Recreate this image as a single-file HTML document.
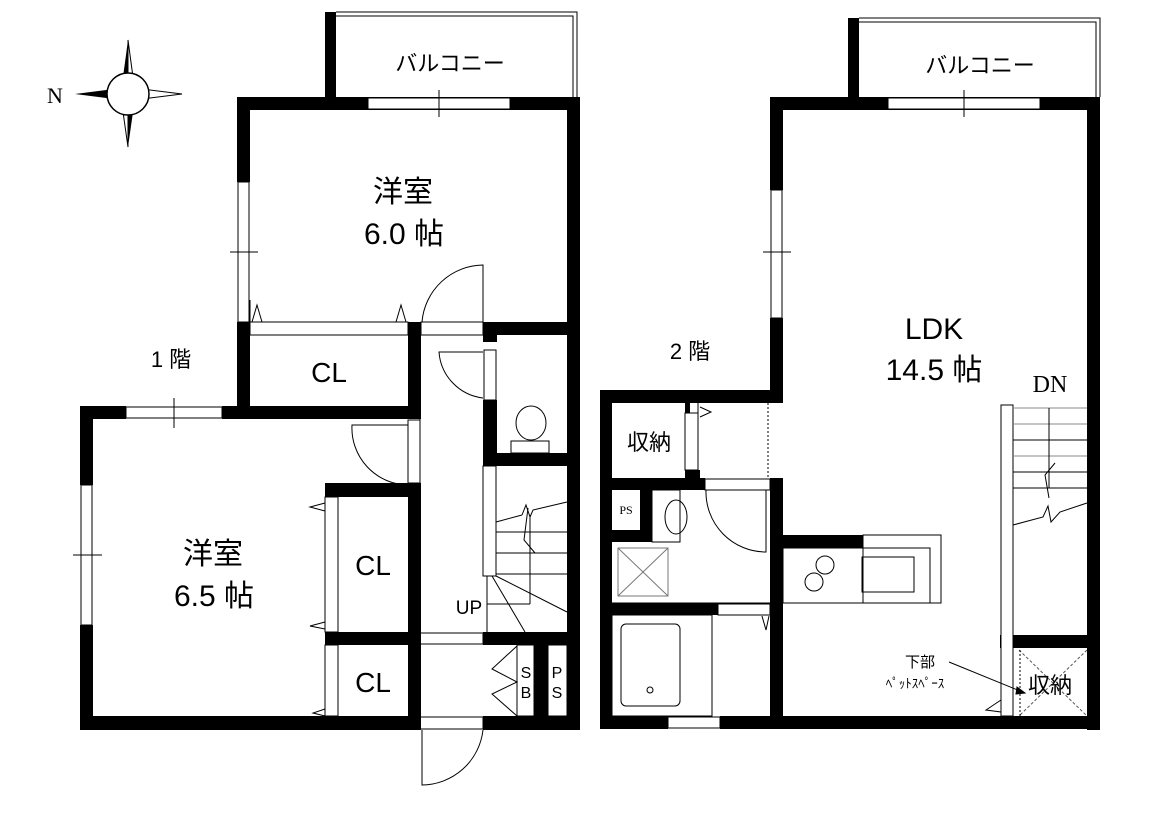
<!DOCTYPE html>
<html><head><meta charset="utf-8"><style>
html,body{margin:0;padding:0;background:#fff;}
svg{display:block;font-family:"Liberation Sans","Noto Sans CJK JP",sans-serif;}
</style></head><body>
<svg width="1150" height="824" viewBox="0 0 1150 824" xmlns="http://www.w3.org/2000/svg">
<rect width="1150" height="824" fill="#fff"/>
<g>
<polygon points="128,40 135,92 128,97 121,92" fill="#000"/>
<polygon points="128,147 121,98 128,92 135,98" fill="#000"/>
<polygon points="75,94 122,88 128,94 122,100" fill="#000"/>
<polygon points="182,94 134,100 128,94 134,88" fill="#fff" stroke="#000"/>
<polygon points="128,40 135,92 128,94" fill="#fff" stroke="#000"/>
<polygon points="128,147 121,98 128,94" fill="#fff" stroke="#000"/>
<circle cx="128" cy="94" r="21" fill="#fff" stroke="#000" stroke-width="1.5"/>
<text x="47" y="103" font-family="Liberation Serif,serif" font-size="22">N</text>
</g>

<g fill="#000">
<rect x="325" y="12" width="11" height="88"/>
<rect x="237" y="97" width="343" height="13"/>
<rect x="237" y="97" width="13" height="85"/>
<rect x="237" y="322" width="13" height="97"/>
<rect x="567" y="97" width="13" height="633"/>
<rect x="483" y="322" width="84" height="13"/>
<rect x="237" y="406" width="183" height="13"/>
<rect x="80" y="406" width="46" height="13"/>
<rect x="222" y="406" width="30" height="13"/>
<rect x="80" y="406" width="13" height="79"/>
<rect x="80" y="625" width="13" height="105"/>
<rect x="80" y="716" width="340" height="14"/>
<rect x="408" y="322" width="13" height="97"/>
<rect x="408" y="483" width="13" height="247"/>
<rect x="325" y="483" width="96" height="14"/>
<rect x="325" y="632" width="96" height="13"/>
<rect x="483" y="322" width="14" height="20"/>
<rect x="483" y="400" width="14" height="66"/>
<rect x="483" y="453" width="97" height="13"/>
<rect x="483" y="632" width="97" height="13"/>
<rect x="483" y="716" width="97" height="14"/>
<rect x="534" y="645" width="14" height="85"/>

<rect x="848" y="18" width="11" height="85"/>
<rect x="770" y="97" width="330" height="13"/>
<rect x="1087" y="97" width="13" height="633"/>
<rect x="770" y="97" width="13" height="93"/>
<rect x="770" y="318" width="13" height="84"/>
<rect x="600" y="390" width="183" height="13"/>
<rect x="600" y="390" width="12" height="338"/>
<rect x="600" y="716" width="68" height="13"/>
<rect x="720" y="716" width="380" height="13"/>
<rect x="770" y="478" width="13" height="250"/>
<rect x="612" y="478" width="93" height="12"/>
<rect x="685" y="403" width="5" height="10"/>
<rect x="685" y="470" width="15" height="10"/>
<rect x="640" y="490" width="12" height="52"/>
<rect x="612" y="530" width="40" height="12"/>
<rect x="612" y="603" width="106" height="12"/>
<rect x="783" y="535" width="80" height="13"/>
<rect x="1000" y="635" width="100" height="13"/>
</g>

<g fill="none" stroke="#000" stroke-width="1">
<polyline points="336,12 577,12 577,97"/>
<polyline points="336,16 573,16 573,97"/>
<rect x="368" y="98" width="142" height="11" fill="#fff"/>
<line x1="439" y1="90" x2="439" y2="117"/>
<rect x="238" y="182" width="11" height="140" fill="#fff"/>
<line x1="230" y1="252" x2="258" y2="252"/>
<rect x="126" y="407" width="96" height="11" fill="#fff"/>
<line x1="174" y1="398" x2="174" y2="428"/>
<rect x="81" y="485" width="11" height="140" fill="#fff"/>
<line x1="73" y1="555" x2="102" y2="555"/>
<rect x="250" y="322" width="158" height="13"/>
<polyline points="252,322 257,305 262,322"/>
<polyline points="396,322 401,305 406,322"/>
<line x1="250" y1="322" x2="250" y2="300"/>
<line x1="420" y1="419" x2="420" y2="730"/>
<line x1="483" y1="268" x2="483" y2="322"/>
<path d="M422,322 A62,62 0 0 1 483,265 L483,322"/>
<rect x="421" y="322" width="62" height="13"/>
<path d="M408,485 A57,57 0 0 1 352,425 L408,425"/>
<rect x="408" y="420" width="12" height="63"/>
<rect x="325" y="497" width="13" height="135"/>
<polyline points="325,503 310,507 325,511"/>
<polyline points="325,622 310,626 325,629"/>
<rect x="325" y="645" width="13" height="71"/>
<polyline points="325,709 313,713 325,716"/>
<path d="M483,398 A50,50 0 0 1 439,352 L483,352"/>
<rect x="484" y="350" width="12" height="50" fill="#fff"/>
<ellipse cx="531" cy="423" rx="15" ry="17"/>
<rect x="511" y="441" width="38" height="12"/>
<rect x="483" y="466" width="13" height="110"/>
<line x1="496" y1="522" x2="522" y2="515"/>
<polyline points="522,515 526,505 530,517 533,510 567,502"/>
<line x1="496" y1="532" x2="567" y2="532"/>
<line x1="496" y1="553" x2="567" y2="553"/>
<line x1="496" y1="574" x2="567" y2="574"/>
<polyline points="528,508 524,540 535,553"/>
<line x1="487" y1="604" x2="530" y2="604"/>
<line x1="530" y1="604" x2="530" y2="515"/>
<line x1="487" y1="576" x2="487" y2="632"/>
<line x1="492" y1="576" x2="525" y2="632"/>
<line x1="496" y1="576" x2="567" y2="612"/>
<rect x="420" y="633" width="63" height="11"/>
<rect x="517" y="645" width="17" height="71"/>
<rect x="548" y="645" width="19" height="71"/>
<polyline points="517,646 492,669 517,682 492,694 517,716"/>
<rect x="420" y="717" width="63" height="12"/>
<path d="M422,730 L422,785 A62,62 0 0 0 483,730"/>

<polyline points="859,18 1100,18 1100,97"/>
<polyline points="859,22 1096,22 1096,97"/>
<rect x="888" y="98" width="152" height="11" fill="#fff"/>
<line x1="964" y1="90" x2="964" y2="117"/>
<rect x="771" y="190" width="11" height="128" fill="#fff"/>
<line x1="763" y1="252" x2="791" y2="252"/>
<rect x="685" y="413" width="13" height="57" fill="#fff"/>
<polyline points="700,407 711,412 700,417"/>
<line x1="698" y1="403" x2="698" y2="478"/>
<line x1="768" y1="403" x2="768" y2="478" stroke-dasharray="2,2"/>
<rect x="705" y="479" width="65" height="11"/>
<path d="M706,490 A60,60 0 0 0 766,552 L766,490"/>
<rect x="652" y="490" width="28" height="52"/>
<ellipse cx="676" cy="517" rx="11" ry="17"/>
<rect x="618" y="548" width="50" height="48" stroke="#777"/>
<line x1="618" y1="548" x2="668" y2="596" stroke="#777"/>
<line x1="668" y1="548" x2="618" y2="596" stroke="#777"/>
<line x1="612" y1="603" x2="770" y2="603"/>
<rect x="718" y="604" width="52" height="11"/>
<polyline points="762,616 766,630 769,616"/>
<rect x="612" y="615" width="100" height="101"/>
<rect x="621" y="624" width="59" height="82" rx="5"/>
<circle cx="650" cy="690" r="3"/>
<rect x="668" y="717" width="52" height="11"/>
<rect x="863" y="535" width="78" height="68"/>
<rect x="783" y="548" width="147" height="55"/>
<rect x="862" y="557" width="52" height="35"/>
<circle cx="825" cy="565" r="9"/>
<circle cx="814" cy="582" r="9"/>
<rect x="1001" y="405" width="12" height="311" fill="#fff"/>
<line x1="1013" y1="408" x2="1087" y2="408" stroke="#888"/>
<line x1="1013" y1="424" x2="1087" y2="424" stroke="#888"/>
<line x1="1013" y1="440" x2="1087" y2="440"/>
<line x1="1013" y1="456" x2="1087" y2="456" stroke="#888"/>
<line x1="1013" y1="472" x2="1087" y2="472"/>
<line x1="1013" y1="488" x2="1087" y2="488"/>
<line x1="1049" y1="408" x2="1049" y2="488"/>
<polyline points="1055,463 1045,475 1049,498"/>
<polyline points="1013,525 1043,517 1048,506 1051,522 1060,512 1087,503"/>
<line x1="1019" y1="650" x2="1087" y2="716" stroke="#555" stroke-dasharray="3,2"/>
<line x1="1087" y1="650" x2="1019" y2="716" stroke="#555" stroke-dasharray="3,2"/>
<line x1="1020" y1="650" x2="1020" y2="716" stroke-dasharray="2,2"/>
<polyline points="1001,700 986,710 1001,712"/>
<line x1="949" y1="662" x2="1025" y2="693"/>
<polygon points="1025,693 1017,687 1016,694" fill="#000"/>
</g>

<g font-size="25" text-anchor="middle">
<text x="450" y="71" font-size="22">バルコニー</text>
<text x="980" y="73" font-size="22">バルコニー</text>
<text x="403" y="202" font-size="30">洋室</text>
<text x="404" y="244" font-size="30">6.0 帖</text>
<text x="171" y="367" font-size="22">1 階</text>
<text x="329" y="382" font-size="28">CL</text>
<text x="213" y="564" font-size="30">洋室</text>
<text x="214" y="606" font-size="30">6.5 帖</text>
<text x="373" y="575" font-size="28">CL</text>
<text x="373" y="692" font-size="28">CL</text>
<text x="469" y="614" font-size="19">UP</text>
<text x="526" y="678" font-size="16">S</text>
<text x="526" y="698" font-size="16">B</text>
<text x="557" y="678" font-size="16">P</text>
<text x="557" y="698" font-size="16">S</text>
<text x="690" y="359" font-size="22">2 階</text>
<text x="934" y="339" font-size="30">LDK</text>
<text x="934" y="380" font-size="30">14.5 帖</text>
<text x="1050" y="392" font-size="24" font-family="Liberation Serif,serif">DN</text>
<text x="649" y="450" font-size="22">収納</text>
<text x="626" y="514" font-size="12" font-family="Liberation Serif,serif">PS</text>
<text x="920" y="667" font-size="15">下部</text>
<text x="915" y="688" font-size="13">ﾍﾟｯﾄｽﾍﾟｰｽ</text>
<text x="1050" y="693" font-size="22">収納</text>
</g>
</svg>
</body></html>
